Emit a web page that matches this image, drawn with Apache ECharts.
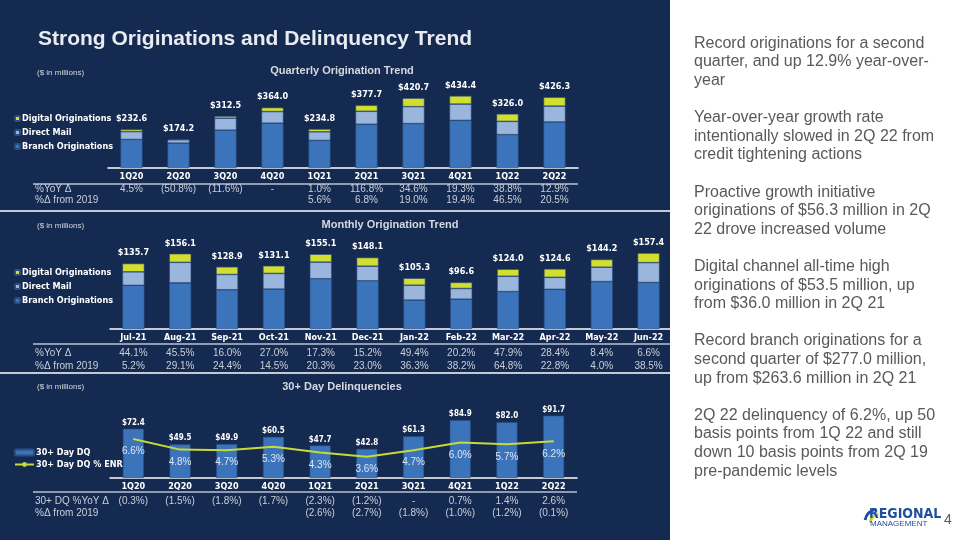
<!DOCTYPE html>
<html>
<head>
<meta charset="utf-8">
<script src="https://cdn.jsdelivr.net/npm/echarts@6/dist/echarts.min.js"></script>
<style>
  html, body { margin: 0; padding: 0; background: #ffffff; }
  #main { width: 960px; height: 540px; }
</style>
</head>
<body>
<div id="main"></div>
<script>
// quarterly originations ($ in millions)
var quarters = ['1Q20', '2Q20', '3Q20', '4Q20', '1Q21', '2Q21', '3Q21', '4Q21', '1Q22', '2Q22'];
var qBranch = [172, 150, 228, 270, 166, 263.6, 267.4, 287, 201, 277.0];
var qDirectMail = [47, 20, 72, 70, 52, 78.1, 102.3, 98, 80, 95.8];
var qDigital = [13.6, 4.2, 12.5, 24, 16.8, 36.0, 51.0, 49.4, 45, 53.5];
var qTotals = [232.6, 174.2, 312.5, 364.0, 234.8, 377.7, 420.7, 434.4, 326.0, 426.3];
var qYoY = ['4.5%', '(50.8%)', '(11.6%)', '-', '1.0%', '116.8%', '34.6%', '19.3%', '38.8%', '12.9%'];
var qFrom2019 = ['', '', '', '', '5.6%', '6.8%', '19.0%', '19.4%', '46.5%', '20.5%'];

// monthly originations
var months = ['Jul-21', 'Aug-21', 'Sep-21', 'Oct-21', 'Nov-21', 'Dec-21', 'Jan-22', 'Feb-22', 'Mar-22', 'Apr-22', 'May-22', 'Jun-22'];
var mBranch = [90.5, 95.6, 81.3, 82.7, 104.1, 99.9, 59.9, 61.8, 77.5, 82.3, 98.3, 96.4];
var mDirectMail = [28.0, 42.6, 31.7, 32.5, 34.5, 30.3, 30.9, 22.2, 31.9, 24.9, 29.8, 41.1];
var mDigital = [17.2, 17.9, 15.9, 15.9, 16.5, 17.9, 14.5, 12.6, 14.6, 17.4, 16.1, 19.9];
var mTotals = [135.7, 156.1, 128.9, 131.1, 155.1, 148.1, 105.3, 96.6, 124.0, 124.6, 144.2, 157.4];
var mYoY = ['44.1%', '45.5%', '16.0%', '27.0%', '17.3%', '15.2%', '49.4%', '20.2%', '47.9%', '28.4%', '8.4%', '6.6%'];
var mFrom2019 = ['5.2%', '29.1%', '24.4%', '14.5%', '20.3%', '23.0%', '36.3%', '38.2%', '64.8%', '22.8%', '4.0%', '38.5%'];

// 30+ day delinquencies
var dqValues = [72.4, 49.5, 49.9, 60.5, 47.7, 42.8, 61.3, 84.9, 82.0, 91.7];
var dqRates = [6.6, 4.8, 4.7, 5.3, 4.3, 3.6, 4.7, 6.0, 5.7, 6.2];
var dqYoY = ['(0.3%)', '(1.5%)', '(1.8%)', '(1.7%)', '(2.3%)', '(1.2%)', '-', '0.7%', '1.4%', '2.6%'];
var dqFrom2019 = ['', '', '', '', '(2.6%)', '(2.7%)', '(1.8%)', '(1.0%)', '(1.2%)', '(0.1%)'];

var bullets = [
    'Record originations for a second',
    'quarter, and up 12.9% year-over-',
    'year',
    '',
    'Year-over-year growth rate',
    'intentionally slowed in 2Q 22 from',
    'credit tightening actions',
    '',
    'Proactive growth initiative',
    'originations of $56.3 million in 2Q',
    '22 drove increased volume',
    '',
    'Digital channel all-time high',
    'originations of $53.5 million, up',
    'from $36.0 million in 2Q 21',
    '',
    'Record branch originations for a',
    'second quarter of $277.0 million,',
    'up from $263.6 million in 2Q 21',
    '',
    '2Q 22 delinquency of 6.2%, up 50',
    'basis points from 1Q 22 and still',
    'down 10 basis points from 2Q 19',
    'pre-pandemic levels'
];

var NAVY = '#152a50';
var BRANCH = '#3b74bb';
var MAIL = '#9bb6dc';
var DIGITAL = '#d3df2e';
var LINE = '#c6da3a';
var NARROW = 'Liberation Sans Narrow, DejaVu Sans Condensed, Arial Narrow, sans-serif';
var SANS = 'Liberation Sans, Arial, sans-serif';
var ROWGRAY = '#c9cfda';

function catAxis(gridIndex, data) {
    return {
        type: 'category', gridIndex: gridIndex, data: data,
        axisLine: { lineStyle: { color: '#ffffff', width: 1.5 } },
        axisTick: { show: false },
        axisLabel: { interval: 0, margin: 4, color: '#ffffff', fontFamily: NARROW, fontWeight: 'bold', fontSize: 9 }
    };
}

// table rows drawn as extra label-only category axes
function rowAxis(gridIndex, data, margin) {
    return {
        type: 'category', gridIndex: gridIndex, data: data, position: 'bottom',
        axisLine: { show: false }, axisTick: { show: false }, splitLine: { show: false },
        axisLabel: { interval: 0, margin: margin, color: ROWGRAY, fontFamily: SANS, fontSize: 10 }
    };
}

function valAxis(gridIndex, max) {
    return { type: 'value', gridIndex: gridIndex, min: 0, max: max, show: false, splitLine: { show: false } };
}

function stackSeries(name, xi, data, color, stack, totals) {
    var s = {
        name: name, type: 'bar', stack: stack, xAxisIndex: xi, yAxisIndex: xi === 0 ? 0 : 1,
        data: data, barWidth: 22,
        itemStyle: { color: color, borderColor: '#2b4f85', borderWidth: 0.6 }
    };
    if (totals) {
        s.label = {
            show: true, position: 'top', distance: 6,
            color: '#ffffff', fontFamily: NARROW, fontWeight: 'bold', fontSize: 9,
            formatter: function (p) { return '$' + totals[p.dataIndex].toFixed(1); }
        };
    }
    return s;
}

function legend(top, names, gap, w, h) {
    return {
        orient: 'vertical', left: 9, top: top, data: names,
        itemWidth: w, itemHeight: h, itemGap: gap, selectedMode: false,
        textStyle: { color: '#ffffff', fontFamily: NARROW, fontWeight: 'bold', fontSize: 9, padding: [0, 0, 0, -3] }
    };
}

function text(x, y, str, font, fill, align) {
    return { type: 'text', x: x, y: y, style: { text: str, font: font, fill: fill, align: align || 'left', verticalAlign: 'middle' } };
}

function hline(x1, x2, y, color, w) {
    return { type: 'line', shape: { x1: x1, y1: y, x2: x2, y2: y }, style: { stroke: color, lineWidth: w } };
}

var chart = echarts.init(document.getElementById('main'));

var option = {
    backgroundColor: '#ffffff',
    animation: false,
    grid: [
        { left: 108, right: 382, top: 85, bottom: 372 },
        { left: 110, right: 288, top: 247, bottom: 211 },
        { left: 110, right: 383, top: 410, bottom: 62 }
    ],
    xAxis: [
        catAxis(0, quarters),
        catAxis(1, months),
        catAxis(2, quarters),
        rowAxis(0, qYoY, 16),
        rowAxis(0, qFrom2019, 27),
        rowAxis(1, mYoY, 19),
        rowAxis(1, mFrom2019, 32),
        rowAxis(2, dqYoY, 18),
        rowAxis(2, dqFrom2019, 30)
    ],
    yAxis: [
        valAxis(0, 500),
        valAxis(1, 170),
        valAxis(2, 100),
        valAxis(2, 11.5)
    ],
    legend: [
        legend(109, ['Digital Originations', 'Direct Mail', 'Branch Originations'], 5, 5, 5),
        legend(263, ['Digital Originations', 'Direct Mail', 'Branch Originations'], 5, 5, 5),
        legend(443, ['30+ Day DQ', '30+ Day DQ % ENR'], 3, 19, 6)
    ],
    series: [
        stackSeries('Branch Originations', 0, qBranch, BRANCH, 'q'),
        stackSeries('Direct Mail', 0, qDirectMail, MAIL, 'q'),
        stackSeries('Digital Originations', 0, qDigital, DIGITAL, 'q', qTotals),
        stackSeries('Branch Originations', 1, mBranch, BRANCH, 'm'),
        stackSeries('Direct Mail', 1, mDirectMail, MAIL, 'm'),
        stackSeries('Digital Originations', 1, mDigital, DIGITAL, 'm', mTotals),
        {
            name: '30+ Day DQ', type: 'bar', xAxisIndex: 2, yAxisIndex: 2,
            data: dqValues, barWidth: 21,
            itemStyle: { color: BRANCH, borderColor: '#2b4f85', borderWidth: 0.6 },
            label: {
                show: true, position: 'top', distance: 2,
                color: '#ffffff', fontFamily: NARROW, fontWeight: 'bold', fontSize: 8,
                formatter: function (p) { return '$' + p.value.toFixed(1); }
            }
        },
        {
            name: '30+ Day DQ % ENR', type: 'line', xAxisIndex: 2, yAxisIndex: 3,
            data: dqRates, symbol: 'circle', symbolSize: 1,
            itemStyle: { color: LINE },
            lineStyle: { color: LINE, width: 2 },
            label: {
                show: true, position: 'bottom', distance: 7,
                color: '#dfe5ef', fontFamily: SANS, fontSize: 10,
                formatter: function (p) { return p.value.toFixed(1) + '%'; }
            }
        }
    ],
    graphic: [
        { type: 'rect', z: -10, shape: { x: 0, y: 0, width: 670, height: 540 }, style: { fill: NAVY } },
        text(38, 39, 'Strong Originations and Delinquency Trend', 'bold 21px ' + SANS, '#e8ebf0'),
        text(342, 71, 'Quarterly Origination Trend', 'bold 11px ' + SANS, '#d6d9df', 'center'),
        text(390, 225, 'Monthly Origination Trend', 'bold 11px ' + SANS, '#d6d9df', 'center'),
        text(342, 387, '30+ Day Delinquencies', 'bold 11px ' + SANS, '#d6d9df', 'center'),
        text(37, 73, '($ in millions)', '8px ' + SANS, '#d6d9df'),
        text(37, 226, '($ in millions)', '8px ' + SANS, '#d6d9df'),
        text(37, 387, '($ in millions)', '8px ' + SANS, '#d6d9df'),
        hline(33, 578, 184, '#8f9bb0', 2),
        hline(33, 670, 344, '#8f9bb0', 2),
        hline(33, 577, 492, '#8f9bb0', 2),
        hline(0, 670, 211, '#ffffff', 1.5),
        hline(0, 670, 373, '#ffffff', 1.5),
        text(35, 189, '%YoY \u0394', '10px ' + SANS, ROWGRAY),
        text(35, 200, '%\u0394 from 2019', '10px ' + SANS, ROWGRAY),
        text(35, 353, '%YoY \u0394', '10px ' + SANS, ROWGRAY),
        text(35, 366, '%\u0394 from 2019', '10px ' + SANS, ROWGRAY),
        text(35, 501, '30+ DQ %YoY \u0394', '10px ' + SANS, ROWGRAY),
        text(35, 513, '%\u0394 from 2019', '10px ' + SANS, ROWGRAY),
        {
            type: 'text', x: 694, y: 34,
            style: { text: bullets.join('\n'), font: '16px ' + SANS, fill: '#595959', lineHeight: 18.6, verticalAlign: 'top' }
        },
        // logo
        { type: 'arc', shape: { cx: 878, cy: 522, r: 13, startAngle: Math.PI * 1.05, endAngle: Math.PI * 1.45 }, style: { stroke: '#1f4fa0', lineWidth: 3, fill: null } },
        { type: 'arc', shape: { cx: 880, cy: 524, r: 10, startAngle: Math.PI * 1.05, endAngle: Math.PI * 1.45 }, style: { stroke: '#c9d631', lineWidth: 3, fill: null } },
        text(869, 514, 'REGIONAL', 'bold 14px ' + NARROW, '#1f4fa0'),
        text(870, 524, 'MANAGEMENT', '8px ' + SANS, '#1f4fa0'),
        text(944, 520, '4', '14px ' + SANS, '#595959')
    ]
};

chart.setOption(option);
</script>
</body>
</html>
